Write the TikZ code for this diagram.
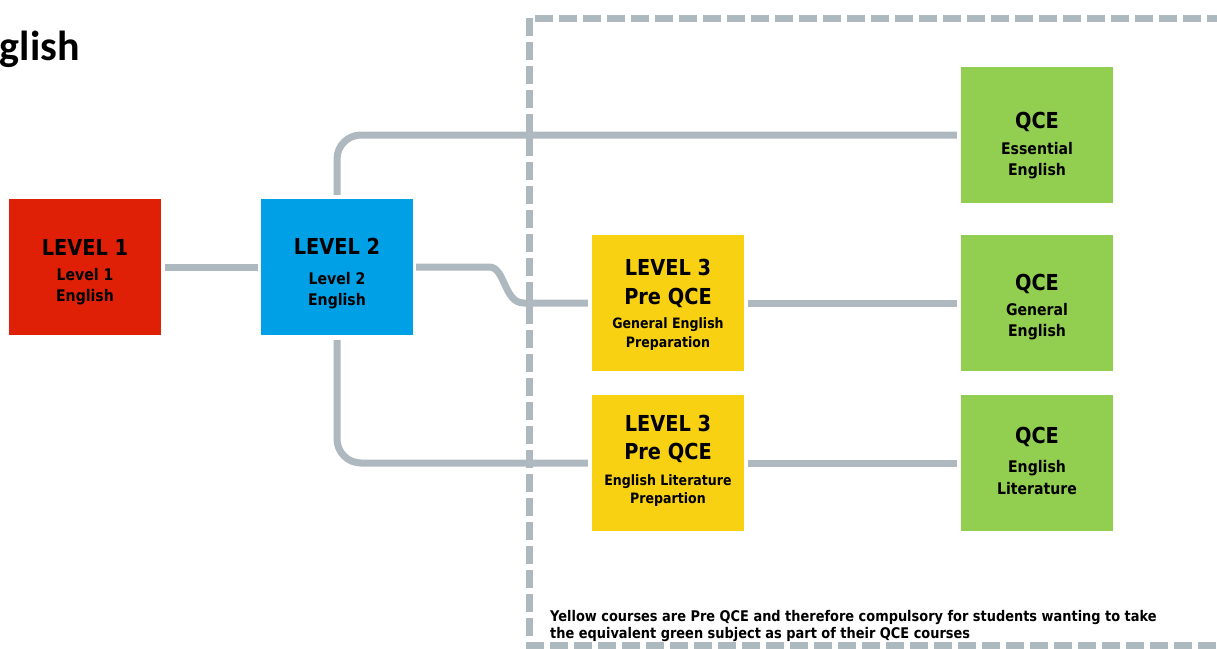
\documentclass[tikz,border=0pt]{standalone}
\usepackage{fontspec}
\setmainfont{DejaVu Sans}
\newfontfamily\boxfont[FakeStretch=0.88]{DejaVu Sans}
\newfontfamily\titlefont{Carlito}
\definecolor{lvred}{RGB}{223,32,6}
\definecolor{lvblue}{RGB}{0,160,230}
\definecolor{lvyellow}{RGB}{248,209,18}
\definecolor{lvgreen}{RGB}{146,207,80}
\definecolor{lngray}{RGB}{173,184,191}
\newcommand{\hdr}{\fontsize{22}{21}\selectfont}
\begin{document}
\begin{tikzpicture}[x=1pt,y=-1pt,
  box/.style={rectangle, minimum width=152pt, minimum height=136pt, inner sep=0pt},
  txt/.style={anchor=base, align=center, inner sep=0pt, text=black, font=\boxfont\bfseries\fontsize{16}{21}\selectfont},
  ytxt/.style={txt, font=\boxfont\bfseries\fontsize{14.3}{19}\selectfont},
  conn/.style={draw=lngray, line width=7pt},
  frame/.style={draw=lngray, line width=7pt, dash pattern=on 18pt off 6pt}]
\useasboundingbox (0,0) rectangle (1217,648);
\node[anchor=base east, inner sep=0pt, font=\titlefont\bfseries\fontsize{42}{42}\selectfont] (title) at (80,60) {English};
% frame
\draw[frame] (1240,645) -- (529,645) -- (529,18) -- (1240,18);
% boxes
\node[box, fill=lvred] (l1) at (85,267) {};
\node[box, fill=lvblue] (l2) at (337,267) {};
\node[box, fill=lvyellow] (y1) at (668,303) {};
\node[box, fill=lvyellow] (y2) at (668,463) {};
\node[box, fill=lvgreen] (g1) at (1037,135) {};
\node[box, fill=lvgreen] (g2) at (1037,303) {};
\node[box, fill=lvgreen] (g3) at (1037,463) {};
% box texts
\node[txt] (l1t) at (85,301) {{\hdr LEVEL 1}\\[4pt]Level 1\\English};
\node[txt] (l2t) at (337,305) {{\hdr LEVEL 2}\\[9pt]Level 2\\English};
\node[ytxt] (y1t) at (668,347) {{\hdr LEVEL 3}\\[10pt]{\hdr Pre QCE}\\[5pt]General English\\Preparation};
\node[ytxt] (y2t) at (668,503) {{\hdr LEVEL 3}\\[9pt]{\hdr Pre QCE}\\[7pt]English Literature\\[-1pt]Prepartion};
\node[txt] (g1t) at (1037,175) {{\hdr QCE}\\[5pt]Essential\\English};
\node[txt] (g2t) at (1037,336) {{\hdr QCE}\\[4pt]General\\English};
\node[txt] (g3t) at (1037,494) {{\hdr QCE}\\[8pt]English\\[1pt]Literature};
% connectors
\draw[conn] ([xshift=4pt]l1.east) -- ([xshift=-3pt]l2.west);
\draw[conn] ([xshift=3pt]l2.east) -- ++(73,0) .. controls +(16,0) and +(-20,0) .. ([xshift=-68pt]y1.west) -- ([xshift=-4pt]y1.west);
\draw[conn, rounded corners=24pt] ([yshift=4pt]l2.north) |- ([xshift=-4pt]g1.west);
\draw[conn, rounded corners=24pt] ([yshift=-5pt]l2.south) |- ([xshift=-4pt]y2.west);
\draw[conn] ([xshift=4pt]y1.east) -- ([xshift=-4pt]g2.west);
\draw[conn] ([xshift=4pt]y2.east) -- ([xshift=-4pt]g3.west);
% note
\node[anchor=base west, align=left, inner sep=0pt, font=\boxfont\bfseries\fontsize{14.7}{17}\selectfont] (note) at (550,638) {Yellow courses are Pre QCE and therefore compulsory for students wanting to take\\the equivalent green subject as part of their QCE courses};
\end{tikzpicture}
\end{document}
